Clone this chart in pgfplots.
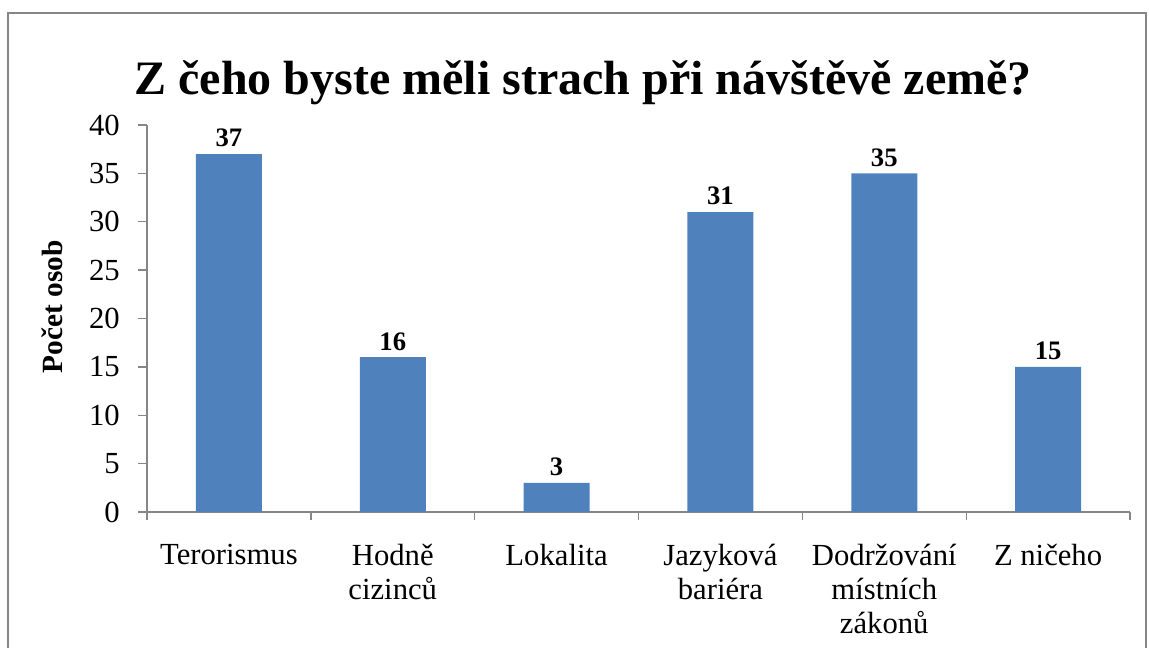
\documentclass[border=0pt]{standalone}
\usepackage{pgfplots}
\pgfplotsset{compat=1.18}
\usepackage{fontspec}
\setmainfont{Liberation Serif}
\definecolor{barblue}{HTML}{4F81BD}
\definecolor{axgray}{HTML}{868686}
\begin{document}
\begin{tikzpicture}
\useasboundingbox (0,0) rectangle (861.75pt,486pt);
\draw[axgray, line width=1.1pt] (6pt,-15pt) -- (6pt,476.25pt) -- (859.5pt,476.25pt) -- (859.5pt,-15pt);
\begin{axis}[
 at={(110.25pt,102pt)}, anchor=south west,
 scale only axis, width=737.25pt, height=290.25pt,
 xmin=-0.5, xmax=5.5, ymin=0, ymax=40,
 axis x line*=bottom, axis y line*=left,
 axis line style={axgray, line width=1pt},
 ytick={0,5,...,40}, xtick={0,...,5},
 minor xtick={-0.5,0.5,...,5.5},
 tick align=outside,
 major tick length=6.75pt, minor tick length=6pt,
 tick style={axgray, line width=1pt},
 major x tick style={draw=none},
 xticklabels={Terorismus, {Hodně\\cizinců}, Lokalita, {Jazyková\\bariéra}, {Dodržování\\místních\\zákonů}, {Z ničeho}},
 xticklabel style={font=\fontsize{23}{25.5}\selectfont, align=center, anchor=north, inner sep=0pt, yshift=-17pt},
 yticklabel style={font=\fontsize{23}{25.5}\selectfont, anchor=east, inner sep=0pt, xshift=-13.5pt},
 /pgf/number format/assume math mode=true,
 ybar, bar width=49.5pt,
 nodes near coords,
 nodes near coords style={font=\bfseries\fontsize{20}{24}\selectfont, anchor=south, inner sep=0pt, yshift=5pt},
]
\addplot[fill=barblue, draw=none] coordinates {(0,37) (1,16) (2,3) (3,31) (4,35) (5,15)};
\end{axis}
\node[anchor=base, font=\bfseries\fontsize{36}{40}\selectfont] at (437.25pt, 414.75pt) {Z čeho byste měli strach při návštěvě země?};
\node[rotate=90, font=\bfseries\fontsize{22}{26}\selectfont] at (39pt, 255.75pt) {Počet osob};
\end{tikzpicture}
\end{document}
